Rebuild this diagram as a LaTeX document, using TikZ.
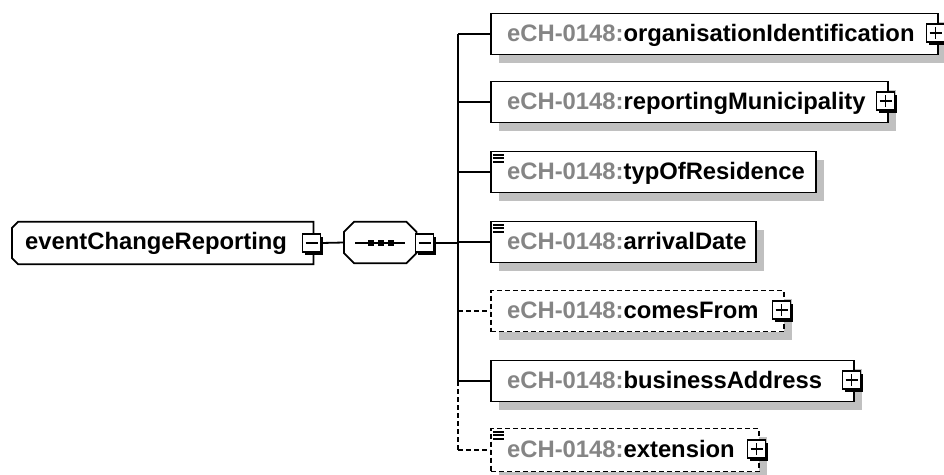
\documentclass[tikz,border=0pt]{standalone}
\usepackage{fontspec}
\setmainfont{Liberation Sans}
\usetikzlibrary{shadows}
\definecolor{pre}{HTML}{858585}
\definecolor{shd}{HTML}{C0C0C0}
\begin{document}
\begin{tikzpicture}[x=1pt,y=-1pt,
  font=\fontsize{23.8}{28}\selectfont,
  box/.style={draw, line width=1.8pt, fill=white, inner sep=0pt, minimum height=41pt, anchor=west,
    drop shadow={shadow xshift=8pt, shadow yshift=-8pt, fill=shd, opacity=1}},
  optbox/.style={box, dash pattern=on 5pt off 3pt},
  anchorbox/.style={inner sep=0pt, anchor=west},
  outline/.style={draw, line width=1.8pt, fill=white},
  shadowfill/.style={fill=shd},
  conn/.style={line width=1.8pt},
  optconn/.style={line width=1.8pt, dash pattern=on 5pt off 3pt},
  pm/.style={draw, line width=1.6pt, fill=white, inner sep=0pt, minimum size=18pt,
    drop shadow={shadow xshift=2.5pt, shadow yshift=-2.5pt, fill=black, opacity=1}},
  minus/.style={pm, path picture={\draw[line width=1.5pt] ([xshift=-6pt]path picture bounding box.center) -- ([xshift=6pt]path picture bounding box.center);}},
  plus/.style={pm, path picture={\draw[line width=1.5pt] ([xshift=-6pt]path picture bounding box.center) -- ([xshift=6pt]path picture bounding box.center)
      ([yshift=-6pt]path picture bounding box.center) -- ([yshift=6pt]path picture bounding box.center);}},
  lbl/.style={anchor=base west, inner sep=0pt},
  icon/.style={line width=1.8pt}
]
\useasboundingbox (0,0) rectangle (944,474);

% root element (chamfered on the left)
\node[anchorbox, minimum width=301pt, minimum height=42pt] (root) at (12,243) {};
\fill[shadowfill, shift={(8,8)}] ([xshift=6pt]root.north west) -- (root.north east) -- (root.south east)
  -- ([xshift=6pt]root.south west) -- ([yshift=6pt]root.south west) -- ([yshift=-6pt]root.north west) -- cycle;
\draw[outline] ([xshift=6pt]root.north west) -- (root.north east) -- (root.south east)
  -- ([xshift=6pt]root.south west) -- ([yshift=6pt]root.south west) -- ([yshift=-6pt]root.north west) -- cycle;
\node[lbl] (roott) at (25,249.5) {\bfseries eventChangeReporting};
\node[minus] (rootpm) at (311.5,243) {};

% sequence compositor (octagon)
\node[anchorbox, minimum width=72pt, minimum height=41pt] (seq) at (344,242.5) {};
\fill[shadowfill, shift={(8,8)}] ([xshift=10pt]seq.north west) -- ([xshift=-10pt]seq.north east) -- ([yshift=-10pt]seq.north east)
  -- ([yshift=10pt]seq.south east) -- ([xshift=-10pt]seq.south east) -- ([xshift=10pt]seq.south west)
  -- ([yshift=10pt]seq.south west) -- ([yshift=-10pt]seq.north west) -- cycle;
\draw[outline] ([xshift=10pt]seq.north west) -- ([xshift=-10pt]seq.north east) -- ([yshift=-10pt]seq.north east)
  -- ([yshift=10pt]seq.south east) -- ([xshift=-10pt]seq.south east) -- ([xshift=10pt]seq.south west)
  -- ([yshift=10pt]seq.south west) -- ([yshift=-10pt]seq.north west) -- cycle;
\coordinate (sl) at (355,243);
\coordinate (sr) at (405,243);
\draw[line width=1.8pt] (sl) -- (sr);
\foreach \d in {371,381,391} \fill (\d-3,240) rectangle (\d+3,246);
\node[minus] (seqpm) at (424.5,243) {};

\draw[conn] (rootpm.east) -- (seq.west);

% bus
\coordinate (bus) at (458,243);
\coordinate (bt) at (458,34);
\coordinate (bb) at (458,381);
\coordinate (be) at (458,450);
\draw[conn] (seqpm.east) -- (bus);
\draw[conn] (bt) -- (bb);
\draw[optconn] (bb) -- (be);

% children
\node[box, minimum width=447pt] (oid) at (490,34) {};
\node[box, minimum width=397pt] (rm) at (490,102) {};
\node[box, minimum width=325pt] (tor) at (490,172) {};
\node[box, minimum width=265pt] (ad) at (490,242) {};
\node[optbox, minimum width=293pt] (cf) at (490,311) {};
\node[box, minimum width=363pt] (ba) at (490,381) {};
\node[optbox, minimum width=268pt, minimum height=43pt] (ext) at (490,450) {};

\foreach \n in {oid,rm,tor,ad,ba} \draw[conn] (\n.west -| bt) -- (\n.west);
\foreach \n in {cf,ext} \draw[optconn] (\n.west -| bt) -- (\n.west);

\node[lbl] (oidt) at (507,41) {\bfseries\textcolor{pre}{eCH-0148:}organisationIdentification};
\node[lbl] (rmt) at (507,109) {\bfseries\textcolor{pre}{eCH-0148:}reportingMunicipality};
\node[lbl] (tort) at (507,179) {\bfseries\textcolor{pre}{eCH-0148:}typOfResidence};
\node[lbl] (adt) at (507,249) {\bfseries\textcolor{pre}{eCH-0148:}arrivalDate};
\node[lbl] (cft) at (507,318) {\bfseries\textcolor{pre}{eCH-0148:}comesFrom};
\node[lbl] (bat) at (507,388) {\bfseries\textcolor{pre}{eCH-0148:}businessAddress};
\node[lbl] (extt) at (507,457) {\bfseries\textcolor{pre}{eCH-0148:}extension};

% simple-content icons
\foreach \n in {tor,ad,ext} {
  \draw[icon] ([shift={(3,4)}]\n.north west) -- ++(11,0);
  \draw[icon] ([shift={(3,7.5)}]\n.north west) -- ++(11,0);
  \draw[icon] ([shift={(3,11)}]\n.north west) -- ++(11,0);
}

% expand boxes
\node[plus] (oidpm) at (935.5,33) {};
\node[plus] (rmpm) at (885.5,101) {};
\node[plus] (cfpm) at (781.5,310) {};
\node[plus] (bapm) at (851.5,380) {};
\node[plus] (extpm) at (756.5,449) {};
\end{tikzpicture}
\end{document}
